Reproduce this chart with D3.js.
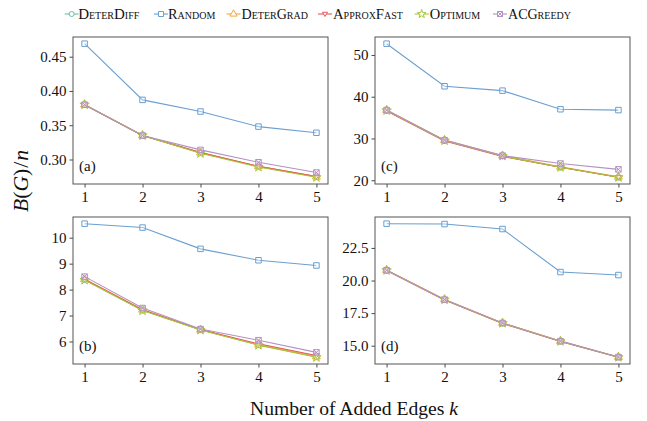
<!DOCTYPE html>
<html><head><meta charset="utf-8">
<script src="https://cdn.jsdelivr.net/npm/d3@7"></script>
</head>
<body style="margin:0;background:#fff">
<svg id="c" width="647" height="421"></svg>
<script>
const ks = [1,2,3,4,5];
const seriesNames = ["DeterDiff","Random","DeterGrad","ApproxFast","Optimum","ACGreedy"];
const seriesColors = ["#66c2a5","#6a9fd0","#f2a640","#e8575a","#a6c63a","#b491c2"];
const seriesSymbols = ["circle","square","triangle","triangleDown","star","xsquare"];
const panelLabels = ["(a)","(b)","(c)","(d)"];

// panel (a)
const aDeterDiff  = [0.380,0.335,0.310,0.290,0.275];
const aRandom     = [0.469,0.387,0.370,0.348,0.339];
const aDeterGrad  = [0.380,0.335,0.310,0.290,0.275];
const aApproxFast = [0.380,0.335,0.310,0.290,0.275];
const aOptimum    = [0.380,0.335,0.309,0.289,0.274];
const aACGreedy   = [0.380,0.335,0.314,0.296,0.281];
const aTicks = [0.30,0.35,0.40,0.45];
// panel (b)
const bDeterDiff  = [8.38,7.20,6.45,5.87,5.41];
const bRandom     = [10.54,10.39,9.57,9.13,8.93];
const bDeterGrad  = [8.40,7.22,6.45,5.88,5.42];
const bApproxFast = [8.40,7.22,6.46,5.91,5.46];
const bOptimum    = [8.37,7.19,6.44,5.86,5.39];
const bACGreedy   = [8.50,7.29,6.48,6.05,5.58];
const bTicks = [6,7,8,9,10];
// panel (c)
const cDeterDiff  = [36.7,29.5,25.8,23.1,20.7];
const cRandom     = [52.7,42.5,41.45,37.0,36.8];
const cDeterGrad  = [36.8,29.6,25.9,23.2,20.8];
const cApproxFast = [36.6,29.4,25.7,23.1,20.7];
const cOptimum    = [36.7,29.5,25.8,23.1,20.7];
const cACGreedy   = [36.8,29.6,25.9,24.0,22.6];
const cTicks = [20,30,40,50];
// panel (d)
const dDeterDiff  = [20.78,18.53,16.73,15.34,14.12];
const dRandom     = [24.36,24.33,23.95,20.65,20.42];
const dDeterGrad  = [20.80,18.55,16.75,15.36,14.13];
const dApproxFast = [20.76,18.51,16.71,15.33,14.11];
const dOptimum    = [20.78,18.53,16.73,15.34,14.12];
const dACGreedy   = [20.79,18.54,16.74,15.35,14.13];
const dTicks = [15.0,17.5,20.0,22.5];

const FONT = "Liberation Serif";
const panels = [
  {label:panelLabels[0], data:[aDeterDiff,aRandom,aDeterGrad,aApproxFast,aOptimum,aACGreedy], ticks:aTicks, fmt:".2f", x:73, y:37},
  {label:panelLabels[1], data:[bDeterDiff,bRandom,bDeterGrad,bApproxFast,bOptimum,bACGreedy], ticks:bTicks, fmt:"d", x:73, y:217},
  {label:panelLabels[2], data:[cDeterDiff,cRandom,cDeterGrad,cApproxFast,cOptimum,cACGreedy], ticks:cTicks, fmt:"d", x:375, y:37},
  {label:panelLabels[3], data:[dDeterDiff,dRandom,dDeterGrad,dApproxFast,dOptimum,dACGreedy], ticks:dTicks, fmt:".1f", x:375, y:217},
];
const PW = 255, PH = 147;
const svg = d3.select("#c");

function symPath(type, s){
  switch(type){
    case "circle": return d3.symbol(d3.symbolCircle, s*s*0.8)();
    case "square": return d3.symbol(d3.symbolSquare, s*s)();
    case "triangle": return d3.symbol(d3.symbolTriangle, s*s*0.9)();
    case "triangleDown": return "M"+(-s/2)+","+(-s*0.35)+"L"+(s/2)+","+(-s*0.35)+"L0,"+(s*0.5)+"Z";
    case "star": return d3.symbol(d3.symbolStar, s*s*0.9)();
    case "xsquare": { const h=s/2; return `M${-h},${-h}L${h},${-h}L${h},${h}L${-h},${h}Z M${-h},${-h}L${h},${h}M${h},${-h}L${-h},${h}`; }
  }
}

panels.forEach(p=>{
  const all = p.data.flat();
  const lo = d3.min(all), hi = d3.max(all), pad=(hi-lo)*0.05;
  const x = d3.scaleLinear().domain([0.8,5.2]).range([0,PW]);
  const y = d3.scaleLinear().domain([lo-pad,hi+pad]).range([PH,0]);
  const g = svg.append("g").attr("transform",`translate(${p.x},${p.y})`);
  const xa = g.append("g").attr("transform",`translate(0,${PH})`)
    .call(d3.axisBottom(x).tickValues(ks).tickFormat(d3.format("d")).tickSize(3.5).tickPadding(4));
  const ya = g.append("g").call(d3.axisLeft(y).tickValues(p.ticks).tickFormat(d3.format(p.fmt)).tickSize(3.5).tickPadding(3));
  [xa,ya].forEach(a=>{
    a.attr("font-family",FONT).attr("font-size",15);
    a.select(".domain").remove();
    a.selectAll(".tick line").attr("stroke","#333").attr("stroke-width",0.9);
    a.selectAll(".tick text").attr("fill","#111");
  });
  g.append("rect").attr("width",PW).attr("height",PH).attr("fill","none").attr("stroke","#555").attr("stroke-width",1);
  const line = d3.line().x((d,i)=>x(ks[i])).y(d=>y(d));
  p.data.forEach((vals,si)=>{
    g.append("path").attr("d",line(vals)).attr("fill","none")
      .attr("stroke",seriesColors[si]).attr("stroke-width",1.1);
    g.selectAll(null).data(vals).enter().append("path")
      .attr("transform",(d,i)=>`translate(${x(ks[i])},${y(d)})`)
      .attr("d",symPath(seriesSymbols[si],5.5))
      .attr("fill","white").attr("fill-opacity",0.35)
      .attr("stroke",seriesColors[si]).attr("stroke-width",1);
  });
  g.append("text").attr("x",6).attr("y",PH-13).attr("font-size",15).attr("font-family",FONT).attr("fill","#111").text(p.label);
});

// legend: marker centres and text widths fitted to the reference layout
const legMarkX = [71.7,161,233.5,325,421.7,500];
const legTextW = [65,49,68,74,53,64];
seriesNames.forEach((n,i)=>{
  const it = svg.append("g").attr("transform",`translate(${legMarkX[i]},14)`);
  it.append("line").attr("x1",-7).attr("x2",7).attr("stroke",seriesColors[i]).attr("stroke-width",1.1);
  it.append("path").attr("d",symPath(seriesSymbols[i],5)).attr("fill","white").attr("stroke",seriesColors[i]).attr("stroke-width",1);
  const t = it.append("text").attr("x",i===0?6.5:(i===1?7:8)).attr("y",5).attr("font-size",15)
    .attr("font-family",FONT).style("font-variant","small-caps").attr("fill","#111").text(n);
  const w = t.node().getComputedTextLength();
  t.attr("font-size",15*legTextW[i]/w);
});

// axis labels
const yl = svg.append("text").attr("transform","translate(28,181) rotate(-90)").attr("text-anchor","middle").attr("font-size",17)
  .attr("font-family",FONT).attr("fill","#111")
  .html('<tspan font-style="italic">B</tspan>(<tspan font-style="italic">G</tspan>)<tspan dx="1">/</tspan><tspan dx="1" font-style="italic">n</tspan>');
const ylw = yl.node().getComputedTextLength();
yl.attr("font-size",17*60/ylw);
const xl = svg.append("text").attr("x",354).attr("y",415).attr("text-anchor","middle").attr("font-size",17)
  .attr("font-family",FONT).attr("fill","#111")
  .html('Number of Added Edges <tspan font-style="italic">k</tspan>');
const xlw = xl.node().getComputedTextLength();
xl.attr("font-size",17*208/xlw);
</script></body></html>
